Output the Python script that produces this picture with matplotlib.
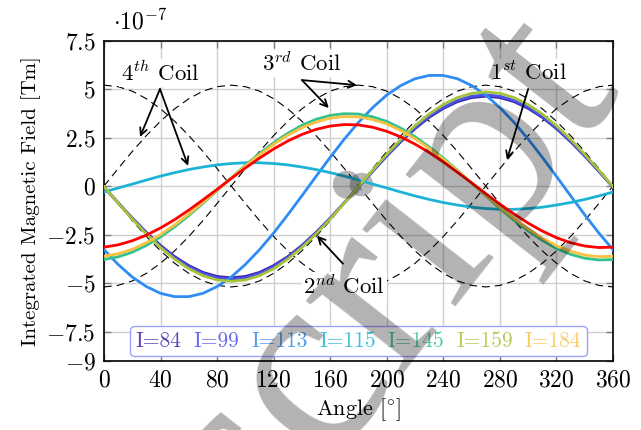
import numpy as np
import matplotlib
matplotlib.use("Agg")
import matplotlib.pyplot as plt
from matplotlib.ticker import FixedLocator, FixedFormatter

plt.rcParams['font.family'] = 'serif'
plt.rcParams['font.serif'] = ['cmr10']
plt.rcParams['mathtext.fontset'] = 'cm'
plt.rcParams['axes.unicode_minus'] = False

angle = list(range(0, 361, 10))

coil_1 = [5.2, 5.12, 4.89, 4.50, 3.98, 3.34, 2.60, 1.78, 0.90, 0, -0.90, -1.78, -2.60, -3.34, -3.98, -4.50, -4.89, -5.12,
          -5.2, -5.12, -4.89, -4.50, -3.98, -3.34, -2.60, -1.78, -0.90, 0, 0.90, 1.78, 2.60, 3.34, 3.98, 4.50, 4.89, 5.12, 5.2]
coil_2 = [0, -0.90, -1.78, -2.60, -3.34, -3.98, -4.50, -4.89, -5.12, -5.2, -5.12, -4.89, -4.50, -3.98, -3.34, -2.60, -1.78, -0.90,
          0, 0.90, 1.78, 2.60, 3.34, 3.98, 4.50, 4.89, 5.12, 5.2, 5.12, 4.89, 4.50, 3.98, 3.34, 2.60, 1.78, 0.90, 0]
coil_3 = [-5.2, -5.12, -4.89, -4.50, -3.98, -3.34, -2.60, -1.78, -0.90, 0, 0.90, 1.78, 2.60, 3.34, 3.98, 4.50, 4.89, 5.12,
          5.2, 5.12, 4.89, 4.50, 3.98, 3.34, 2.60, 1.78, 0.90, 0, -0.90, -1.78, -2.60, -3.34, -3.98, -4.50, -4.89, -5.12, -5.2]
coil_4 = [0, 0.90, 1.78, 2.60, 3.34, 3.98, 4.50, 4.89, 5.12, 5.2, 5.12, 4.89, 4.50, 3.98, 3.34, 2.60, 1.78, 0.90,
          0, -0.90, -1.78, -2.60, -3.34, -3.98, -4.50, -4.89, -5.12, -5.2, -5.12, -4.89, -4.50, -3.98, -3.34, -2.60, -1.78, -0.90, 0]

i_84 = [-0.05, -0.86, -1.65, -2.39, -3.06, -3.64, -4.10, -4.45, -4.66, -4.73, -4.66, -4.45, -4.10, -3.64, -3.06, -2.39, -1.65, -0.86,
        -0.05, 0.76, 1.55, 2.29, 2.96, 3.54, 4.00, 4.35, 4.56, 4.63, 4.56, 4.35, 4.00, 3.54, 2.96, 2.29, 1.55, 0.76, -0.05]
i_99 = [-0.05, -0.87, -1.67, -2.42, -3.10, -3.69, -4.16, -4.51, -4.73, -4.80, -4.73, -4.51, -4.16, -3.69, -3.10, -2.42, -1.67, -0.87,
        -0.05, 0.77, 1.57, 2.32, 3.00, 3.59, 4.06, 4.41, 4.63, 4.70, 4.63, 4.41, 4.06, 3.59, 3.00, 2.32, 1.57, 0.77, -0.05]
i_113 = [-3.28, -4.04, -4.69, -5.18, -5.53, -5.70, -5.70, -5.53, -5.18, -4.69, -4.04, -3.28, -2.42, -1.48, -0.50, 0.50, 1.48, 2.42,
         3.28, 4.04, 4.69, 5.18, 5.53, 5.70, 5.70, 5.53, 5.18, 4.69, 4.04, 3.28, 2.42, 1.48, 0.50, -0.50, -1.48, -2.42, -3.28]
i_115 = [-0.31, -0.10, 0.10, 0.31, 0.51, 0.69, 0.85, 0.98, 1.09, 1.16, 1.20, 1.20, 1.16, 1.09, 0.98, 0.85, 0.69, 0.51,
         0.31, 0.10, -0.10, -0.31, -0.51, -0.69, -0.85, -0.98, -1.09, -1.16, -1.20, -1.20, -1.16, -1.09, -0.98, -0.85, -0.69, -0.51, -0.31]
i_145 = [-3.79, -3.65, -3.41, -3.06, -2.62, -2.10, -1.52, -0.89, -0.24, 0.42, 1.07, 1.68, 2.23, 2.72, 3.13, 3.44, 3.64, 3.73,
         3.71, 3.57, 3.33, 2.98, 2.54, 2.02, 1.44, 0.81, 0.16, -0.50, -1.15, -1.76, -2.31, -2.80, -3.21, -3.52, -3.72, -3.81, -3.79]
i_159 = [-0.03, -0.88, -1.70, -2.47, -3.17, -3.77, -4.26, -4.62, -4.84, -4.91, -4.84, -4.62, -4.26, -3.77, -3.17, -2.47, -1.70, -0.88,
         -0.03, 0.82, 1.64, 2.41, 3.11, 3.71, 4.20, 4.56, 4.78, 4.85, 4.78, 4.56, 4.20, 3.71, 3.11, 2.41, 1.64, 0.82, -0.03]
i_184 = [-3.62, -3.49, -3.26, -2.92, -2.50, -2.00, -1.44, -0.84, -0.22, 0.41, 1.03, 1.61, 2.15, 2.62, 3.01, 3.30, 3.50, 3.58,
         3.56, 3.43, 3.20, 2.86, 2.44, 1.94, 1.38, 0.78, 0.16, -0.47, -1.09, -1.67, -2.21, -2.68, -3.07, -3.36, -3.56, -3.64, -3.62]
red_curve = [-3.15, -3.03, -2.82, -2.53, -2.16, -1.73, -1.24, -0.71, -0.17, 0.39, 0.93, 1.44, 1.91, 2.32, 2.66, 2.92, 3.09, 3.17,
             3.15, 3.03, 2.82, 2.53, 2.16, 1.73, 1.24, 0.71, 0.17, -0.39, -0.93, -1.44, -1.91, -2.32, -2.66, -2.92, -3.09, -3.17, -3.15]

legend_labels = ['I=84', 'I=99', 'I=113', 'I=115', 'I=145', 'I=159', 'I=184']
series = [i_84, i_99, i_113, i_115, i_145, i_159, i_184]
colors = ['#3e26a8', '#4a52ea', '#2e8cf2', '#1cb3d6', '#33c28e', '#a6c43a', '#fbc242']

x_ticks = [0, 40, 80, 120, 160, 200, 240, 280, 320, 360]
y_ticks = [-9, -7.5, -5, -2.5, 0, 2.5, 5, 7.5]
y_tick_labels = ['$-9$', '$-7.5$', '$-5$', '$-2.5$', '$0$', '$2.5$', '$5$', '$7.5$']

fig = plt.figure(figsize=(6.41, 4.30), dpi=100)
ax = fig.add_axes([0.1622, 0.1612, 0.7941, 0.7446])

for c in (coil_1, coil_2, coil_3, coil_4):
    ax.plot(angle, c, color='k', lw=0.8, dashes=(7, 4.5), zorder=2)

ax.plot([182], [0.1], 'o', ms=17, color='#9a9a9a', alpha=0.7, mec='none', zorder=2.2)

handles = []
for vals, col, lab in zip(series, colors, legend_labels):
    h, = ax.plot(angle, vals, color=col, lw=2.0, label=lab, zorder=3)
    handles.append(h)
ax.plot(angle, red_curve, color='#ff0000', lw=2.0, zorder=3.1)

ax.set_xlim(0, 360)
ax.set_ylim(-9, 7.5)
ax.xaxis.set_major_locator(FixedLocator(x_ticks))
ax.xaxis.set_major_formatter(FixedFormatter(['$%d$' % v for v in x_ticks]))
ax.yaxis.set_major_locator(FixedLocator(y_ticks))
ax.yaxis.set_major_formatter(FixedFormatter(y_tick_labels))
ax.tick_params(direction='in', top=True, right=True, length=5, width=1, color='#808080',
               labelsize=17, pad=6)
ax.grid(True, color='#d0d0d0', lw=1)
ax.set_axisbelow(True)
for s in ax.spines.values():
    s.set_linewidth(1.2)

ax.set_xlabel(r'Angle [$^{\circ}$]', fontsize=16, labelpad=4)
ax.set_ylabel('Integrated Magnetic Field [Tm]', fontsize=15, labelpad=4)
fig.text(113 / 641, 1 - 22 / 430, r'$\cdot 10^{-7}$', fontsize=17, va='center', ha='left')

leg = ax.legend(handles=handles, loc='lower center', ncol=7, handlelength=0, handletextpad=0,
                columnspacing=0.55, fontsize=15.5, labelcolor='linecolor', fancybox=True,
                borderaxespad=0.2, borderpad=0.25, framealpha=1, edgecolor='#a0a0ff')
for t in leg.get_texts():
    t.set_alpha(0.85)

bbox = dict(facecolor='white', edgecolor='none', pad=1)
arrow = dict(arrowstyle='->,head_length=0.5,head_width=0.25', lw=1.3, color='k', shrinkA=0, shrinkB=0)
fs_ann = 16.5
ax.text(39.6, 5.82, r'$4^{th}$ Coil', fontsize=fs_ann, ha='center', va='center', bbox=bbox, zorder=5)
ax.annotate('', xy=(25.5, 2.53), xytext=(39.6, 5.0), arrowprops=arrow, zorder=5)
ax.annotate('', xy=(59.5, 1.04), xytext=(39.6, 5.0), arrowprops=arrow, zorder=5)
ax.text(140, 6.33, r'$3^{rd}$ Coil', fontsize=fs_ann, ha='center', va='center', bbox=bbox, zorder=5)
ax.annotate('', xy=(179, 5.2), xytext=(140, 5.46), arrowprops=arrow, zorder=5)
ax.annotate('', xy=(159, 4.02), xytext=(140, 5.46), arrowprops=arrow, zorder=5)
ax.text(300, 5.88, r'$1^{st}$ Coil', fontsize=fs_ann, ha='center', va='center', bbox=bbox, zorder=5)
ax.annotate('', xy=(285, 1.35), xytext=(300, 5.0), arrowprops=arrow, zorder=5)
ax.text(170, -5.13, r'$2^{nd}$ Coil', fontsize=fs_ann, ha='center', va='center', bbox=bbox, zorder=5)
ax.annotate('', xy=(150.6, -2.56), xytext=(169, -4.0), arrowprops=arrow, zorder=5)

fig.text(620 / 641, 1 - 85 / 430, 'Manuscript', fontsize=189, family='Liberation Serif', color='k', alpha=0.3,
         rotation=52, rotation_mode='anchor', ha='right', va='baseline', zorder=10)

fig.savefig('out.png', dpi=100)
